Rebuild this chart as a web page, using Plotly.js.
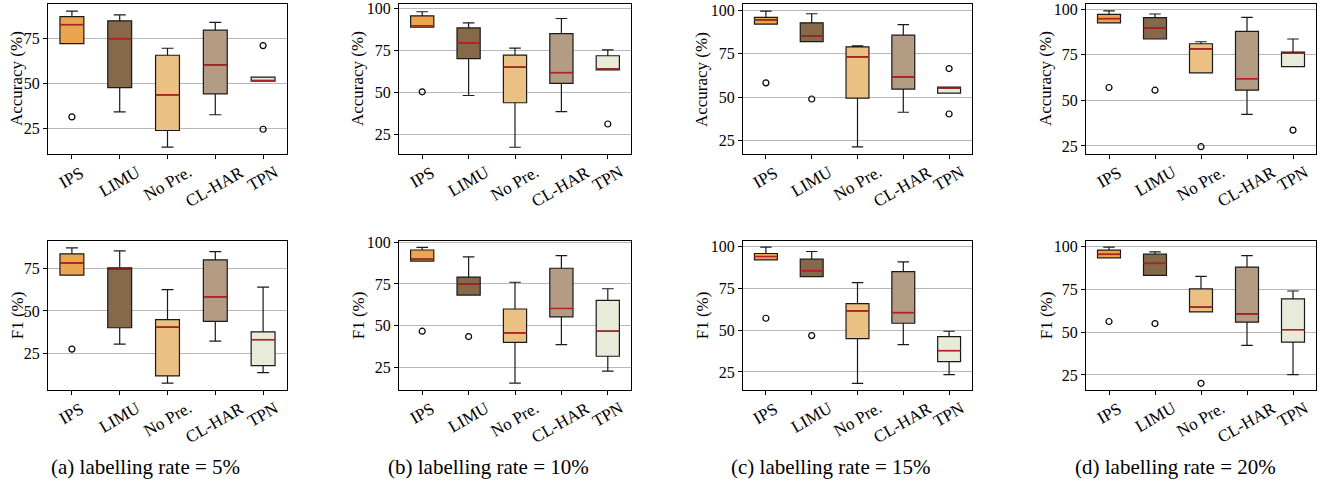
<!DOCTYPE html>
<html>
<head>
<meta charset="utf-8">
<script src="https://cdn.plot.ly/plotly-3.0.1.min.js"></script>
<style>html,body{margin:0;padding:0;background:#fff;}#chart{width:1325px;height:482px;}</style>
</head>
<body>
<div id="chart"></div>
<script>
// ---------- DATA ----------
const categories = ['IPS', 'LIMU', 'No Pre.', 'CL-HAR', 'TPN'];
const captions = ['(a) labelling rate = 5%', '(b) labelling rate = 10%', '(c) labelling rate = 15%', '(d) labelling rate = 20%'];
const yTitles = ['Accuracy (%)', 'F1 (%)'];

// Accuracy, 5%
const acc5Lower  = [72.2, 34.1, 14.4, 32.5, 51.2];
const acc5Q1     = [72.2, 47.6, 23.7, 44.2, 51.2];
const acc5Median = [82.8, 75.0, 43.6, 60.3, 51.5];
const acc5Q3     = [87.3, 84.9, 65.7, 79.7, 53.5];
const acc5Upper  = [90.3, 88.2, 69.6, 84.0, 53.5];
const acc5OutX   = [0, 4, 4];
const acc5OutY   = [31.3, 71.1, 24.4];

// Accuracy, 10%
const acc10Lower  = [88.6, 48.1, 17.4, 38.6, 63.3];
const acc10Q1     = [88.6, 70.0, 43.8, 55.3, 63.3];
const acc10Median = [89.5, 79.4, 64.9, 61.7, 63.8];
const acc10Q3     = [95.4, 88.2, 72.1, 84.8, 71.7];
const acc10Upper  = [97.8, 91.2, 76.2, 93.8, 75.2];
const acc10OutX   = [0, 4];
const acc10OutY   = [50.3, 31.2];

// Accuracy, 15%
const acc15Lower  = [91.9, 81.9, 21.4, 41.3, 52.3];
const acc15Q1     = [91.9, 81.9, 49.4, 54.6, 52.3];
const acc15Median = [94.4, 85.2, 73.1, 61.6, 55.2];
const acc15Q3     = [95.8, 92.7, 78.9, 85.6, 55.7];
const acc15Upper  = [99.4, 97.9, 79.5, 91.6, 55.7];
const acc15OutX   = [0, 1, 4, 4];
const acc15OutY   = [58.2, 48.9, 66.4, 40.3];

// Accuracy, 20%
const acc20Lower  = [92.5, 83.7, 65.1, 42.3, 68.5];
const acc20Q1     = [92.5, 83.7, 65.1, 55.6, 68.5];
const acc20Median = [94.9, 89.7, 78.3, 61.9, 75.9];
const acc20Q3     = [97.2, 95.4, 81.1, 87.9, 76.5];
const acc20Upper  = [99.1, 97.4, 82.2, 95.6, 83.7];
const acc20OutX   = [0, 1, 2, 4];
const acc20OutY   = [57.1, 55.6, 24.6, 33.7];

// F1, 5%
const f15Lower  = [70.9, 30.6, 7.8, 32.4, 13.9];
const f15Q1     = [70.9, 40.2, 12.0, 43.9, 18.0];
const f15Median = [78.1, 75.2, 40.6, 58.3, 33.2];
const f15Q3     = [83.4, 75.2, 45.0, 79.9, 37.8];
const f15Upper  = [86.9, 85.1, 62.5, 84.7, 63.9];
const f15OutX   = [0];
const f15OutY   = [27.7];

// F1, 10%
const f110Lower  = [88.7, 68.3, 15.6, 38.7, 22.8];
const f110Q1     = [88.7, 68.3, 40.0, 55.3, 31.7];
const f110Median = [89.8, 75.0, 45.7, 60.3, 46.7];
const f110Q3     = [95.3, 79.1, 60.0, 84.4, 65.1];
const f110Upper  = [96.9, 91.2, 76.0, 92.0, 72.1];
const f110OutX   = [0, 1];
const f110OutY   = [46.7, 43.5];

// F1, 15%
const f115Lower  = [92.2, 82.2, 18.2, 41.4, 23.4];
const f115Q1     = [92.2, 82.2, 45.0, 54.2, 31.2];
const f115Median = [94.2, 85.8, 61.6, 60.6, 37.8];
const f115Q3     = [96.0, 92.6, 66.0, 85.2, 46.2];
const f115Upper  = [99.8, 97.2, 78.6, 91.0, 49.4];
const f115OutX   = [0, 1];
const f115OutY   = [57.2, 46.8];

// F1, 20%
const f120Lower  = [93.4, 83.1, 61.8, 42.3, 25.2];
const f120Q1     = [93.4, 83.1, 61.8, 55.8, 44.1];
const f120Median = [95.4, 90.1, 64.6, 60.6, 51.4];
const f120Q3     = [97.9, 95.5, 75.3, 87.9, 69.4];
const f120Upper  = [99.6, 96.9, 82.5, 94.7, 74.0];
const f120OutX   = [0, 1, 2];
const f120OutY   = [56.2, 55.0, 20.1];

// ---------- STYLE / LAYOUT ----------
const boxColors = ['#EBA54F', '#86694A', '#EAC083', '#B39B84', '#E9EBDA'];
const medianColor = '#B22222';
const W = 1325, H = 482;
const colX = [[48, 287], [399, 631], [743, 972], [1086, 1316]];
const rowY = [[4, 154], [240.5, 390]];
const yTitleX = [17, 358, 702, 1046];
const yRanges = [
  [[10.6, 94.3], [13.4, 102.4], [17.3, 103.5], [20.6, 102.9]],
  [[3.8, 91.2], [11.5, 101.0], [14.2, 103.8], [16.2, 103.5]]
];
const yTicks = [
  [[25, 50, 75], [25, 50, 75, 100], [25, 50, 75, 100], [25, 50, 75, 100]],
  [[25, 50, 75], [25, 50, 75, 100], [25, 50, 75, 100], [25, 50, 75, 100]]
];
const panels = [
  [
    [acc5Lower, acc5Q1, acc5Median, acc5Q3, acc5Upper, acc5OutX, acc5OutY],
    [acc10Lower, acc10Q1, acc10Median, acc10Q3, acc10Upper, acc10OutX, acc10OutY],
    [acc15Lower, acc15Q1, acc15Median, acc15Q3, acc15Upper, acc15OutX, acc15OutY],
    [acc20Lower, acc20Q1, acc20Median, acc20Q3, acc20Upper, acc20OutX, acc20OutY]
  ],
  [
    [f15Lower, f15Q1, f15Median, f15Q3, f15Upper, f15OutX, f15OutY],
    [f110Lower, f110Q1, f110Median, f110Q3, f110Upper, f110OutX, f110OutY],
    [f115Lower, f115Q1, f115Median, f115Q3, f115Upper, f115OutX, f115OutY],
    [f120Lower, f120Q1, f120Median, f120Q3, f120Upper, f120OutX, f120OutY]
  ]
];
const FONT = 'Liberation Serif, Times New Roman, serif';
const boxWidth = 0.5;

const traces = [];
const layout = {
  width: W, height: H,
  margin: {l: 0, r: 0, t: 0, b: 0},
  paper_bgcolor: '#fff', plot_bgcolor: '#fff',
  showlegend: false,
  font: {family: FONT, size: 16, color: '#000'},
  annotations: []
};

let n = 0;
for (let r = 0; r < 2; r++) {
  for (let c = 0; c < 4; c++) {
    n++;
    const key = n === 1 ? '' : n;
    const xa = 'x' + key, ya = 'y' + key;
    const [lo, q1, med, q3, up, ox, oy] = panels[r][c];
    for (let i = 0; i < categories.length; i++) {
      traces.push({
        type: 'box', xaxis: xa, yaxis: ya,
        x: [i], q1: [q1[i]], median: [med[i]], q3: [q3[i]],
        lowerfence: [lo[i]], upperfence: [up[i]],
        width: boxWidth, whiskerwidth: 0.5,
        fillcolor: boxColors[i],
        line: {color: '#1a1a1a', width: 1.2},
        boxpoints: false, hoverinfo: 'skip'
      });
    }
    // medians
    const mx = [], my = [];
    for (let i = 0; i < categories.length; i++) {
      mx.push(i - boxWidth / 2, i + boxWidth / 2, null);
      my.push(med[i], med[i], null);
    }
    traces.push({type: 'scatter', mode: 'lines', xaxis: xa, yaxis: ya, x: mx, y: my,
      line: {color: medianColor, width: 1.5}, hoverinfo: 'skip'});
    // outliers
    traces.push({type: 'scatter', mode: 'markers', xaxis: xa, yaxis: ya, x: ox, y: oy,
      marker: {symbol: 'circle-open', size: 6, color: '#000', line: {width: 1.2, color: '#000'}},
      hoverinfo: 'skip'});

    layout['xaxis' + key] = {
      domain: [colX[c][0] / W, colX[c][1] / W],
      anchor: ya,
      range: [-0.5, 4.5],
      tickvals: [0, 1, 2, 3, 4],
      showticklabels: false,
      showgrid: false, zeroline: false,
      showline: true, mirror: true, linecolor: '#000', linewidth: 1,
      ticks: 'outside', ticklen: 4, tickcolor: '#000'
    };
    layout['yaxis' + key] = {
      domain: [1 - rowY[r][1] / H, 1 - rowY[r][0] / H],
      anchor: xa,
      range: yRanges[r][c],
      tickvals: yTicks[r][c],
      ticklabeloverflow: 'allow',
      showgrid: true, gridcolor: '#b8b8b8', gridwidth: 1,
      zeroline: false,
      showline: true, mirror: true, linecolor: '#000', linewidth: 1,
      ticks: 'outside', ticklen: 4, tickcolor: '#000',
      tickfont: {family: FONT, size: 16, color: '#000'}
    };
    // y-axis title
    layout.annotations.push({
      xref: 'paper', yref: 'paper', x: yTitleX[c] / W,
      y: 1 - (rowY[r][0] + rowY[r][1]) / 2 / H,
      xanchor: 'center', yanchor: 'middle', textangle: -90, showarrow: false,
      text: yTitles[r], font: {family: FONT, size: 17, color: '#000'}
    });
    // rotated category labels, centred under each tick
    for (let i = 0; i < categories.length; i++) {
      layout.annotations.push({
        xref: xa, yref: 'paper', x: i, y: 1 - (rowY[r][1] + 6) / H,
        xanchor: 'center', yanchor: 'top', textangle: -30, showarrow: false,
        text: categories[i], font: {family: FONT, size: 17, color: '#000'}
      });
    }
  }
}
const capX = [145, 488, 831, 1175];
for (let c = 0; c < 4; c++) {
  layout.annotations.push({
    xref: 'paper', yref: 'paper', x: capX[c] / W, y: 1 - 467 / H,
    xanchor: 'center', yanchor: 'middle', showarrow: false,
    text: captions[c], font: {family: FONT, size: 21, color: '#000'}
  });
}

Plotly.newPlot('chart', traces, layout, {displayModeBar: false, staticPlot: true});
</script>
</body>
</html>
